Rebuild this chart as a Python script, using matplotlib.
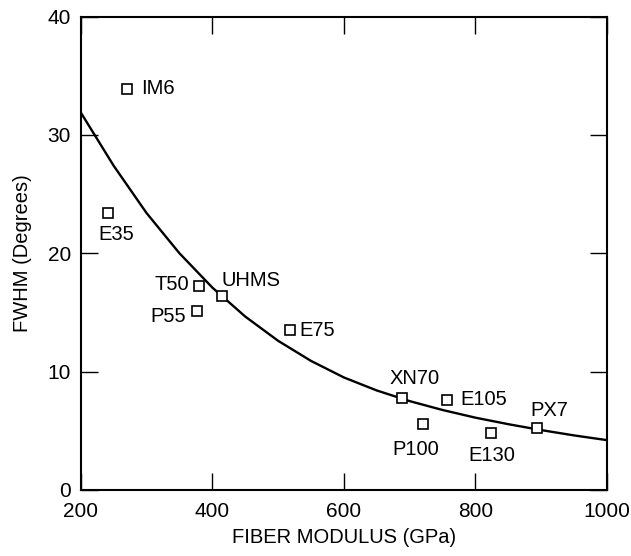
import numpy as np
import matplotlib
matplotlib.use("Agg")
import matplotlib.pyplot as plt

plt.rcParams['font.family'] = ['Liberation Sans', 'DejaVu Sans']

# fiber data
fibers = ['IM6', 'E35', 'T50', 'UHMS', 'P55', 'E75',
          'XN70', 'E105', 'P100', 'E130', 'PX7']
modulus = [271, 241, 380, 415, 377, 518, 688, 756, 721, 823, 894]
fwhm = [33.9, 23.4, 17.2, 16.4, 15.1, 13.5, 7.8, 7.6, 5.6, 4.8, 5.2]

# trend curve, read at points along the line
curve_x = [200, 250, 300, 350, 400, 450, 500, 550, 600,
           650, 700, 750, 800, 850, 900, 950, 1000]
curve_y = [31.9, 27.4, 23.4, 20.0, 17.1, 14.65, 12.6, 10.9, 9.5,
           8.4, 7.5, 6.75, 6.1, 5.55, 5.05, 4.6, 4.2]

# label placement: (dx, dy) in pixels, ha
label_pos = {
    'IM6': (14, 0, 'left'),
    'E35': (9, -21, 'center'),
    'T50': (-10, 2, 'right'),
    'UHMS': (-1, 15, 'left'),
    'P55': (-11, -5, 'right'),
    'E75': (9, 0, 'left'),
    'XN70': (13, 19, 'center'),
    'E105': (14, 0, 'left'),
    'P100': (-8, -26, 'center'),
    'E130': (1, -22, 'center'),
    'PX7': (12, 18, 'center'),
}

fig = plt.figure(figsize=(6.31, 5.56), dpi=100)
ax = fig.add_axes([0.128, 0.119, 0.834, 0.851])

ax.plot(curve_x, curve_y, color='black', lw=1.7)
ax.plot(modulus, fwhm, ls='none', marker='s', ms=7, mfc='white',
        mec='black', mew=1.2)

for name, x, y in zip(fibers, modulus, fwhm):
    dx, dy, ha = label_pos[name]
    ax.annotate(name, (x, y), xytext=(dx, dy), textcoords='offset pixels',
                ha=ha, va='center', fontsize=14.5)

ax.set_xlim(200, 1000)
ax.set_ylim(0, 40)
ax.set_xticks([200, 400, 600, 800, 1000])
ax.set_yticks([0, 10, 20, 30, 40])
ax.tick_params(direction='in', length=12, width=1, top=True, right=True,
               labelsize=15)
ax.tick_params(axis='x', pad=9)
ax.tick_params(axis='y', pad=7)
for s in ax.spines.values():
    s.set_linewidth(1.5)

ax.set_xlabel('FIBER MODULUS (GPa)', fontsize=14.5, labelpad=5)
ax.set_ylabel('FWHM (Degrees)', fontsize=14.5, labelpad=11)

plt.savefig('out.png', dpi=100)
